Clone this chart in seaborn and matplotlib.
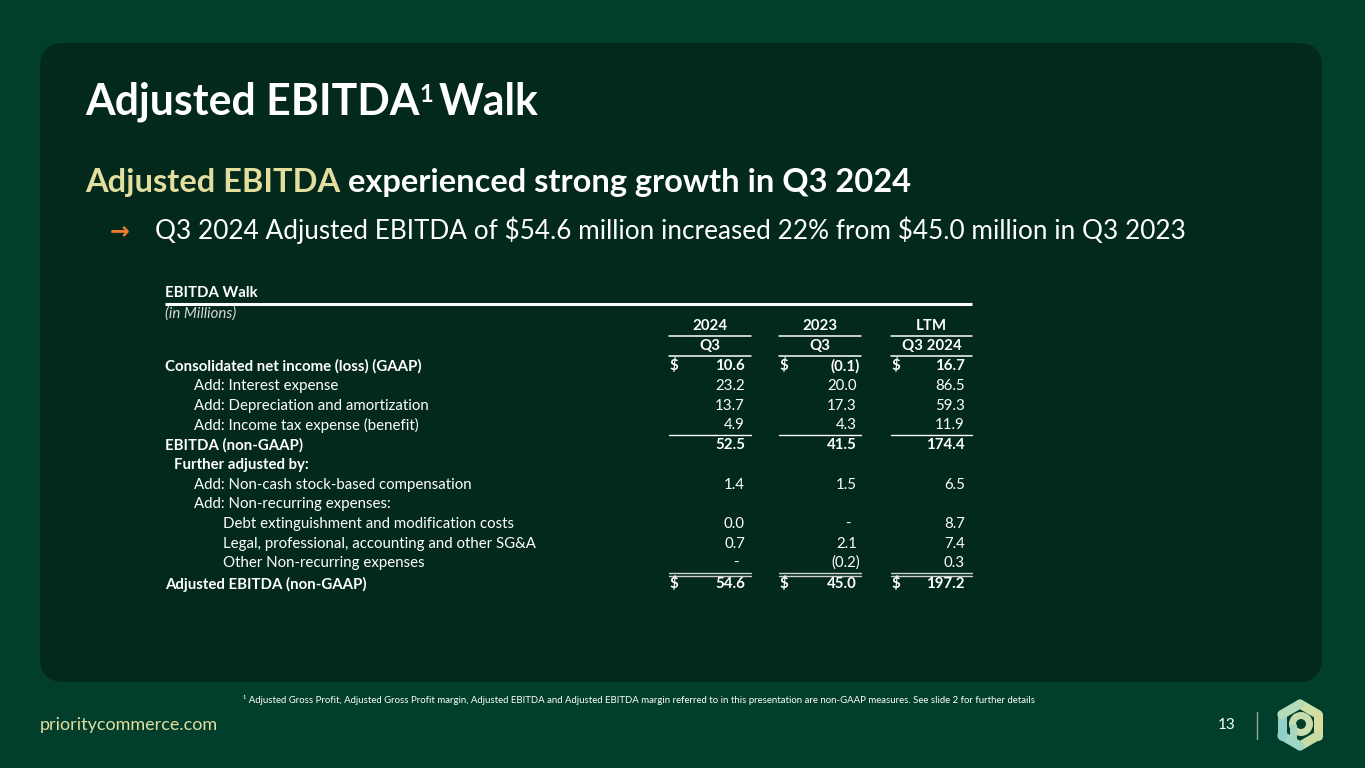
import numpy as np
import matplotlib
matplotlib.use("Agg")
import matplotlib.pyplot as plt
import seaborn as sns
from matplotlib.patches import FancyBboxPatch

# Table data (in millions)
row_labels = [
    "Consolidated net income (loss) (GAAP)",
    "Add: Interest expense",
    "Add: Depreciation and amortization",
    "Add: Income tax expense (benefit)",
    "EBITDA (non-GAAP)",
    "Further adjusted by:",
    "Add: Non-cash stock-based compensation",
    "Add: Non-recurring expenses:",
    "Debt extinguishment and modification costs",
    "Legal, professional, accounting and other SG&A",
    "Other Non-recurring expenses",
    "Adjusted EBITDA (non-GAAP)",
]
row_indent = [0, 2, 2, 2, 0, 1, 2, 2, 3, 3, 3, 0]
row_bold = [True, False, False, False, True, True, False, False, False, False, False, True]
row_has_values = [True, True, True, True, True, False, True, False, True, True, True, True]
row_dollar = [True, False, False, False, False, False, False, False, False, False, False, True]

col_years = ["2024", "2023", "LTM"]
col_periods = ["Q3", "Q3", "Q3 2024"]
q3_2024 = [10.6, 23.2, 13.7, 4.9, 52.5, np.nan, 1.4, np.nan, 0.0, 0.7, np.nan, 54.6]
q3_2023 = [-0.1, 20.0, 17.3, 4.3, 41.5, np.nan, 1.5, np.nan, np.nan, 2.1, -0.2, 45.0]
ltm_q3_2024 = [16.7, 86.5, 59.3, 11.9, 174.4, np.nan, 6.5, np.nan, 8.7, 7.4, 0.3, 197.2]

BG = "#013f2c"
PANEL = "#03291d"
GOLD = "#e3dd9e"
ORANGE = "#ef7d2b"
WHITE = "#ffffff"

sns.set_theme(style="white")
plt.rcParams["font.family"] = ["Lato", "DejaVu Sans"]
plt.rcParams["text.parse_math"] = False

fig = plt.figure(figsize=(13.65, 7.68), dpi=100, facecolor=BG)
ax = fig.add_axes([0, 0, 1, 1])
ax.set_xlim(0, 1365)
ax.set_ylim(768, 0)
ax.axis("off")
ax.set_facecolor(BG)

panel = FancyBboxPatch((40, 43), 1282, 639, boxstyle="round,pad=0,rounding_size=24",
                       facecolor=PANEL, edgecolor="none")
ax.add_patch(panel)

renderer = fig.canvas.get_renderer()


def chain(x, y, pieces):
    # draw text pieces one after another on a shared baseline
    for txt, kw in pieces:
        dy = kw.pop("dy", 0)
        t = ax.text(x, y + dy, txt, va="baseline", ha="left", **kw)
        x += t.get_window_extent(renderer=renderer).width
    return x


# Title
chain(85, 115, [
    ("Adjusted EBITDA", dict(fontsize=30.8, fontweight="bold", color=WHITE)),
    ("1 ", dict(fontsize=17, fontweight="bold", color=WHITE, dy=-13)),
    ("Walk", dict(fontsize=30.8, fontweight="bold", color=WHITE)),
])

# Subtitle
chain(85, 192, [
    ("Adjusted EBITDA ", dict(fontsize=23.5, fontweight="bold", color=GOLD)),
    ("experienced strong growth in Q3 2024", dict(fontsize=23.5, fontweight="bold", color=WHITE)),
])

ax.text(110, 231, "\u2192", fontsize=17, color=ORANGE, va="center", ha="left",
        fontweight="bold", family=["DejaVu Sans"])
ax.text(155, 239, "Q3 2024 Adjusted EBITDA of $54.6 million increased 22% from $45.0 million in Q3 2023",
        fontsize=18.8, color=WHITE, va="baseline", ha="left")

# Table
TS = 10.8
ax.text(165, 293, "EBITDA Walk", fontsize=TS, fontweight="bold", color=WHITE, va="center")
ax.plot([165, 972], [304, 304], color=WHITE, lw=2.2, solid_capstyle="butt")
ax.text(165, 314, "(in Millions)", fontsize=TS, style="italic", color="#d8d8d8", va="center")

col_left = [669, 779, 891]
col_right = [751, 861, 972]
val_right = [745, 857, 965]
col_vals = [q3_2024, q3_2023, ltm_q3_2024]

for i in range(3):
    cx = (col_left[i] + col_right[i]) / 2
    ax.text(cx, 326, col_years[i], fontsize=TS, fontweight="bold", color=WHITE, ha="center", va="center")
    ax.plot([col_left[i], col_right[i]], [335.5, 335.5], color=WHITE, lw=1.1)
    ax.text(cx, 346, col_periods[i], fontsize=TS, fontweight="bold", color=WHITE, ha="center", va="center")
    ax.plot([col_left[i], col_right[i]], [355.5, 355.5], color=WHITE, lw=1.1)

row_y = [366, 386, 406, 425, 445, 465, 485, 504, 524, 544, 563, 584]
indent_x = [165, 174, 194, 223]

for r, label in enumerate(row_labels):
    y = row_y[r]
    w = "bold" if row_bold[r] else "normal"
    ax.text(indent_x[row_indent[r]], y, label, fontsize=TS, fontweight=w, color=WHITE, va="center")
    if not row_has_values[r]:
        continue
    for i in range(3):
        v = col_vals[i][r]
        if np.isnan(v):
            ax.text(val_right[i] - 9, y, "-", fontsize=TS, color=WHITE, ha="center", va="center")
        elif v < 0:
            ax.text(val_right[i] + 3, y, f"({abs(v):.1f})", fontsize=TS, fontweight=w,
                    color=WHITE, ha="right", va="center")
        else:
            ax.text(val_right[i], y, f"{v:.1f}", fontsize=TS, fontweight=w, color=WHITE,
                    ha="right", va="center")
        if row_dollar[r]:
            ax.text(col_left[i], y, "$", fontsize=TS, fontweight="bold", color=WHITE,
                    ha="left", va="center")

# single rule above EBITDA, double rule above Adjusted EBITDA
for i in range(3):
    ax.plot([col_left[i], col_right[i]], [434.5, 434.5], color=WHITE, lw=1.0)
    ax.plot([col_left[i], col_right[i]], [572.5, 572.5], color="#cfcfcf", lw=1.0)
    ax.plot([col_left[i], col_right[i]], [575.5, 575.5], color="#cfcfcf", lw=1.0)

# Footer
ax.text(243, 700, "\u00b9 Adjusted Gross Profit, Adjusted Gross Profit margin, Adjusted EBITDA and Adjusted "
        "EBITDA margin referred to in this presentation are non-GAAP measures. See slide 2 for further details",
        fontsize=6.9, color=WHITE, va="center", ha="left")
ax.text(40, 725, "prioritycommerce.com", fontsize=13, color=GOLD, va="center", ha="left")
ax.text(1236, 725, "13", fontsize=11, color=WHITE, va="center", ha="right")
ax.plot([1257, 1257], [712, 739], color="#9aa9a0", lw=1)

# Logo: hexagon ring with a "p"
cx0, cy0, rad = 1300, 725, 21
ang = np.deg2rad(np.arange(-90, 271, 60))
hx = cx0 + rad * np.cos(ang)
hy = cy0 + rad * np.sin(ang)
seg_cols = ["#cfe0a8", "#d9dc9c", "#c9dca6", "#9fd6c6", "#8fd0c8", "#b5dcb8"]
for k in range(6):
    ax.plot(hx[k:k + 2], hy[k:k + 2], color=seg_cols[k], lw=6.5, solid_capstyle="round")
ax.add_patch(plt.Circle((cx0 + 1, cy0 - 1), 8.5, facecolor="none", edgecolor="#c8dcae", lw=5))
ax.plot([cx0 - 7.5, cx0 - 7.5], [cy0 - 1, cy0 + 16], color="#a6d6c2", lw=5, solid_capstyle="butt")

fig.savefig("out.png", dpi=100, facecolor=BG)
